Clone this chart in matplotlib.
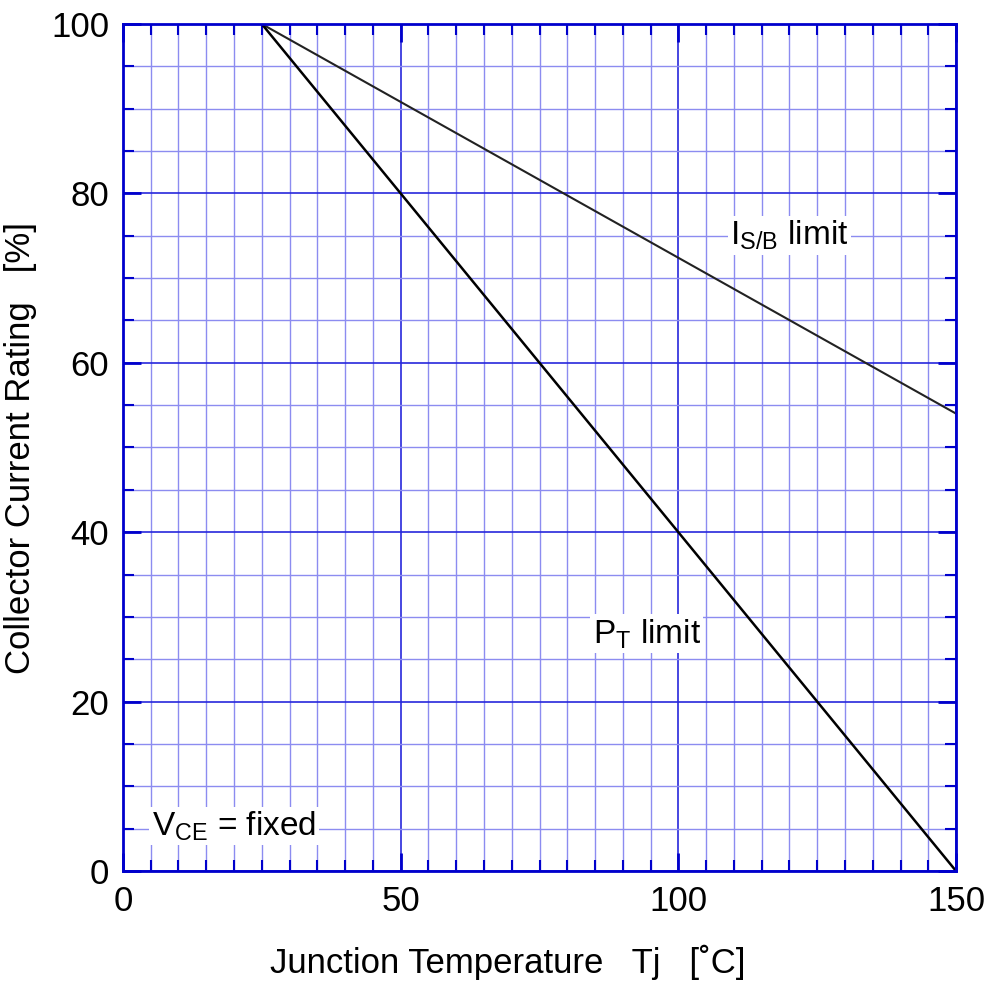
import numpy as np
import matplotlib.pyplot as plt
from matplotlib.ticker import MultipleLocator

plt.rcParams['font.family'] = ['Liberation Sans', 'DejaVu Sans']
plt.rcParams['mathtext.fontset'] = 'custom'
plt.rcParams['mathtext.rm'] = 'Liberation Sans'
plt.rcParams['mathtext.it'] = 'Liberation Sans'

# data
tj = [25, 150]
isb_limit = [100, 54]
pt_limit = [100, 0]

x_ticks = [0, 50, 100, 150]
y_ticks = [0, 20, 40, 60, 80, 100]

fig = plt.figure(figsize=(9.9, 10), dpi=100)
ax = fig.add_axes([0.1242, 0.129, 0.8415, 0.847])

blue = '#0000cc'
ax.set_xlim(0, 150)
ax.set_ylim(0, 100)
ax.set_xticks(x_ticks)
ax.set_yticks(y_ticks)
ax.xaxis.set_minor_locator(MultipleLocator(5))
ax.yaxis.set_minor_locator(MultipleLocator(5))

ax.grid(which='minor', color='#8c8cf0', lw=1.0)
ax.grid(which='major', color='#2828dc', lw=1.2)
ax.set_axisbelow(True)

for s in ax.spines.values():
    s.set_color(blue)
    s.set_linewidth(2)

ax.tick_params(which='both', direction='in', color=blue, top=True, right=True,
               labelsize=25, pad=10)
ax.tick_params(which='major', length=13, width=2)
ax.tick_params(which='minor', length=8, width=1.5)

ax.plot(tj, isb_limit, color='#222222', lw=1.5)
ax.plot(tj, pt_limit, color='black', lw=1.8)

box = dict(facecolor='white', edgecolor='none', pad=2)
ax.text(120, 75, r'$\mathregular{I_{S/B}}$ limit', fontsize=24, ha='center', va='center', bbox=box)
ax.text(94.3, 28, r'$\mathregular{P_{T}}$ limit', fontsize=24, ha='center', va='center', bbox=box)
ax.text(20, 5.3, r'$\mathregular{V_{CE}}$ = fixed', fontsize=24, ha='center', va='center', bbox=box)

ax.set_xlabel('Junction Temperature   Tj   [˚C]', fontsize=25)
ax.xaxis.set_label_coords(0.462, -0.087)
ax.set_ylabel('Collector Current Rating   [%]', fontsize=25, labelpad=10)

fig.savefig('out.png', dpi=100)
